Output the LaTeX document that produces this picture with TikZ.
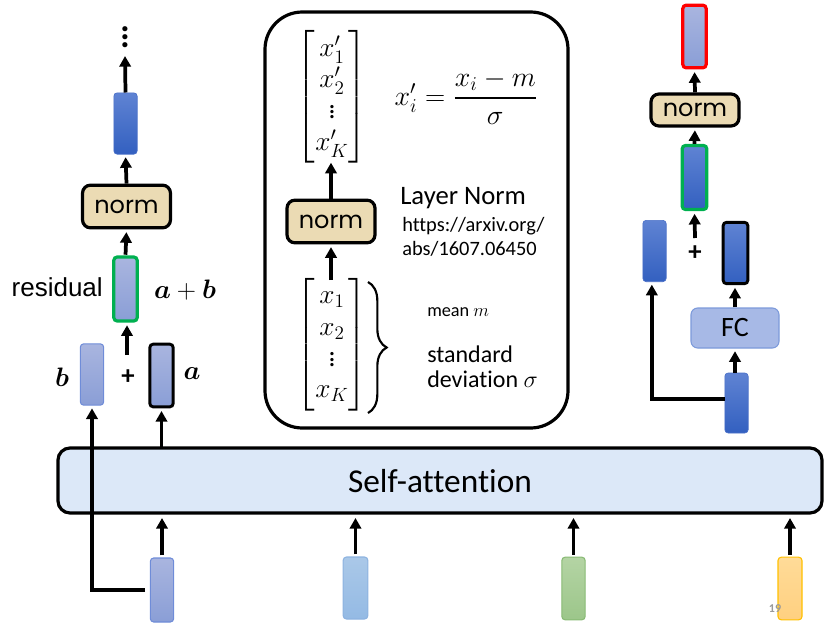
\RequirePackage{fix-cm}
\documentclass[tikz,border=0pt]{standalone}
\usepackage{amsmath,bm}
\usepackage{fontspec}
\setmainfont{Carlito}[Ligatures=NoCommon]
\newfontfamily\normfont{Poppins}
\newfontfamily\arialfont{Liberation Sans}
\usetikzlibrary{arrows.meta,decorations.pathreplacing,calc}
\definecolor{bluetop}{HTML}{5F83D3}
\definecolor{bluebot}{HTML}{3360C0}
\definecolor{bluebd}{HTML}{4A70C8}
\definecolor{purtop}{HTML}{A9B5DF}
\definecolor{purbot}{HTML}{8A9ED6}
\definecolor{purbd}{HTML}{6F8CD8}
\definecolor{ltbtop}{HTML}{AAC8E8}
\definecolor{ltbbot}{HTML}{94BAE4}
\definecolor{ltbbd}{HTML}{8DB3E0}
\definecolor{grtop}{HTML}{B4D4A4}
\definecolor{grbot}{HTML}{9CC68A}
\definecolor{grbd}{HTML}{88BA74}
\definecolor{yetop}{HTML}{FFDB98}
\definecolor{yebot}{HTML}{FFD080}
\definecolor{yebd}{HTML}{FFC000}
\definecolor{normfill}{HTML}{EBDBB4}
\definecolor{safill}{HTML}{DCE8F8}
\definecolor{fcfill}{HTML}{A7B9E6}
\definecolor{fcbd}{HTML}{7C9ADA}
\definecolor{offgreen}{HTML}{00B050}
\tikzset{
  arr/.style={line width=2.8pt,-{Triangle[length=8pt,width=8.5pt]},shorten >=2pt},
  arrx/.style={line width=2.8pt,-{Triangle[length=8pt,width=8.5pt]}},
  vec/.style={rectangle,rounded corners=2.5pt,inner sep=0pt,minimum width=17.5pt,minimum height=47pt},
  bluevec/.style={vec,top color=bluetop,bottom color=bluebot,draw=bluebd,line width=0.5pt},
  purvec/.style={vec,top color=purtop,bottom color=purbot,draw=purbd,line width=0.8pt},
  normbox/.style={rectangle,rounded corners=6pt,draw=black,line width=2.4pt,fill=normfill,inner sep=0pt,minimum width=66pt,minimum height=32pt,font=\normfont\fontsize{18}{18}\selectfont},
  mathlbl/.style={inner sep=0pt,font=\fontsize{20}{24}\selectfont},
  matfont/.style={inner sep=0pt,font=\fontsize{20.5}{23.5}\selectfont},
  txt/.style={inner sep=0pt,anchor=base west},
}
\begin{document}
\begin{tikzpicture}[x=0.75pt,y=-0.75pt]
\useasboundingbox (0,0) rectangle (829,625);

% ---------- Self-attention bar ----------
\node[rectangle,rounded corners=9pt,draw=black,line width=2.4pt,fill=safill,
      minimum width=573pt,minimum height=48.75pt,inner sep=0pt] (SA) at (440,480.5) {};
\node[txt,font=\fontsize{25}{25}\selectfont,anchor=base] (SAt) at (440,492) {Self-attention};
\coordinate (SAbot) at (0,518);
\coordinate (SAtop) at (0,448);

% ---------- inputs ----------
\node[purvec,minimum height=48pt] (I1) at (162,590) {};
\node[vec,top color=ltbtop,bottom color=ltbbot,draw=ltbbd,line width=0.8pt,minimum width=18.5pt,minimum height=46.5pt] (I2) at (355.5,588) {};
\node[vec,top color=grtop,bottom color=grbot,draw=grbd,line width=0.8pt] (I3) at (573.5,588.5) {};
\node[vec,top color=yetop,bottom color=yebot,draw=yebd,line width=0.8pt,minimum width=18pt] (I4) at (790,588.5) {};
\foreach \i in {I1,I2,I3,I4}{
  \draw[arrx] ([yshift=1.5pt]\i.north) -- (\i.north |- SAbot);
}
\node[txt,anchor=base,font=\bfseries\fontsize{9}{9}\selectfont,text=black!40] (pg) at (775,612) {19};

% ---------- left column ----------
\node[purvec,minimum height=46pt] (Lb) at (92,374.5) {};
\node[purvec,draw=black,line width=2.2pt] (La) at (161.5,375.5) {};
\node[purvec,draw=offgreen,line width=2.4pt,minimum height=48pt] (Lsum) at (125.5,289) {};
\node[normbox] (Lnorm) at (126.5,206.5) {norm};
\node[bluevec,minimum height=46pt] (Lvec) at (125.5,123.5) {};
\node[inner sep=0pt,align=center,font=\bfseries\fontsize{26}{6.2}\selectfont] (dots) at (125,37) {.\\.\\.};
\coordinate (dotsb) at (125,56);
\node[inner sep=0pt,font=\bfseries\fontsize{20}{20}\selectfont] (Lplus) at (128,377) {+};
\node[mathlbl] (lb) at (62,377) {$\bm{b}$};
\node[mathlbl] (la) at (192,374) {$\bm{a}$};
\node[mathlbl] (lab) at (185,290) {$\bm{a}+\bm{b}$};
\node[inner sep=0pt,anchor=east,font=\arialfont\fontsize{19.5}{20}\selectfont] (res) at (103,287) {residual};

\draw[arr] ([xshift=-3.5pt]I1.west) -| (Lb.south);
\draw[arr] (La.south |- SAtop) -- (La.south);
\draw[arr] (127,355) -- (Lsum.south -| 127,0);
\draw[arr,shorten <=0.5pt] (Lsum.north) -- (Lnorm.south);
\draw[arr] (Lnorm.north) -- (Lvec.south);
\draw[arrx] (Lvec.north) -- (dotsb);

% ---------- center box ----------
\draw[line width=2.4pt,rounded corners=28pt] (265,12) rectangle (568,428);
\node[matfont] (mtop) at (332,97)
  {$\begin{bmatrix} x'_1\\ x'_2\\ \vdots\\ x'_K\end{bmatrix}$};
\node[inner sep=0pt,font=\fontsize{21}{25}\selectfont] (form) at (466,97)
  {$x'_i=\dfrac{x_i-m}{\sigma}$};
\node[normbox] (Cnorm) at (331,221.5) {norm};
\node[matfont] (mbot) at (332,344.5)
  {$\begin{bmatrix} x_1\\ x_2\\ \vdots\\ x_K\end{bmatrix}$};
\draw[arr] (Cnorm.north) -- (Cnorm.north |- 0,160);
\draw[arr] (Cnorm.south |- 0,280) -- (Cnorm.south);
\draw[line width=1.6pt,decorate,decoration={brace,amplitude=14pt}] (368,282) -- (368,413);
\node[txt,font=\fontsize{20}{20}\selectfont] (ln) at (400,204) {Layer Norm};
\node[txt,font=\fontsize{15.3}{16}\selectfont] (url1) at (402,231) {https://arxiv.org/};
\node[txt,font=\fontsize{15.3}{16}\selectfont] (url2) at (402,255) {abs/1607.06450};
\node[txt,font=\fontsize{13.7}{14}\selectfont] (mean) at (427,316) {mean $m$};
\node[txt,font=\fontsize{18}{18}\selectfont] (std) at (427,362) {standard};
\node[txt,font=\fontsize{18}{18}\selectfont] (dev) at (427,387) {deviation $\sigma$};

% ---------- right column ----------
\node[purvec,draw=red,line width=2.4pt] (Rred) at (694.5,36.5) {};
\node[normbox,minimum height=24pt] (Rnorm) at (695,110) {norm};
\node[bluevec,draw=offgreen,line width=2.4pt,minimum width=18.5pt,minimum height=48pt] (Rgreen) at (694.5,177.5) {};
\node[bluevec,minimum height=46pt] (Rleft) at (654.5,251) {};
\node[bluevec,draw=black,line width=2.2pt,minimum width=18.5pt,minimum height=46pt] (Rblack) at (735.5,253) {};
\node[inner sep=0pt,font=\bfseries\fontsize{20}{20}\selectfont] (Rplus) at (695,253) {+};
\node[rectangle,rounded corners=5pt,fill=fcfill,draw=fcbd,line width=0.8pt,minimum width=66pt,minimum height=30pt,inner sep=0pt,font=\fontsize{21}{21}\selectfont] (RFC) at (735,328) {FC};
\node[bluevec,minimum height=45pt] (Rbot) at (736.5,403) {};

\draw[arr] (Rbot.north -| RFC.south) -- (RFC.south);
\draw[arr] (RFC.north) -- (Rblack.south -| RFC.north);
\draw[arr] ([yshift=3pt]Rbot.west) -| ([xshift=-2pt]Rleft.south);
\draw[arr] (695,238) -- (Rgreen.south);
\draw[arr] (Rgreen.north) -- (Rnorm.south);
\draw[arr] (Rnorm.north) -- (Rred.south);
\end{tikzpicture}
\end{document}
